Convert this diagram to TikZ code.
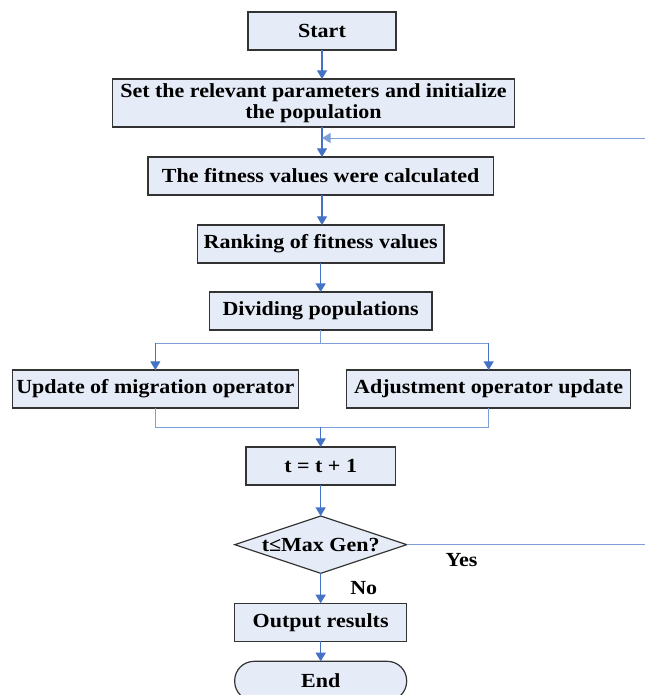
\documentclass[tikz,border=0pt]{standalone}
\usepackage{fontspec}
\setmainfont[FakeStretch=1.1]{Liberation Serif}
\usetikzlibrary{shapes.geometric,arrows.meta,positioning,calc}
\usepackage{xcolor}
\definecolor{cajapaso}{RGB}{230,236,247}
\definecolor{lineaflujo}{RGB}{68,114,196}
\definecolor{linearama}{RGB}{125,158,214}
\newcommand{\flowbox}[3]{%
  \node[rectangle, draw=black!80, line width=0.9pt, fill=cajapaso,
        minimum width=#2, minimum height=28.5pt, inner sep=2pt, outer sep=0pt,
        align=center, font=\fontsize{15}{16}\selectfont\bfseries, #3] (#1) }

\begin{document}
\begin{tikzpicture}[node distance=22.5pt,
  flujo/.style={draw=lineaflujo, line width=1pt, -{Triangle[length=6.5pt,width=7.5pt]}},
  rama/.style={draw=linearama, line width=0.7pt},
  etiqueta/.style={inner sep=0pt, font=\fontsize{15}{16}\selectfont\bfseries}]

\useasboundingbox (-241.5pt,23.25pt) rectangle (241.5pt,-498pt);

\flowbox{StartFC}{111pt}{at={(0,0)}}{Start};
\flowbox{SetupFC}{302pt}{below=21.75pt of StartFC, xshift=-6.4pt, minimum height=36pt}
  {Set the relevant parameters and initialize\\the population};
\flowbox{FitnessFC}{259pt}{below=of SetupFC, xshift=5.4pt}{The fitness values were calculated};
\flowbox{RankFC}{185pt}{below=of FitnessFC}{Ranking of fitness values};
\flowbox{DivideFC}{167pt}{below=21.75pt of RankFC}{Dividing populations};
\flowbox{MigrateFC}{214.5pt}{below=30pt of DivideFC, xshift=-124pt}{Update of migration operator};
\flowbox{AdjustFC}{213pt}{below=30pt of DivideFC, xshift=126pt}{Adjustment operator update};
\flowbox{CountFC}{112pt}{below=87.75pt of DivideFC}{t = t + 1};
\node[diamond, draw=black!80, line width=0.9pt, fill=cajapaso, aspect=3,
      minimum width=129pt, minimum height=43pt, inner sep=0pt, outer sep=0pt,
      font=\fontsize{15}{16}\selectfont\bfseries, below=23.25pt of CountFC] (CheckFC) {t≤Max Gen?};
\flowbox{OutputFC}{129pt}{below=of CheckFC}{Output results};
\flowbox{EndFC}{129pt}{below=15pt of OutputFC, rounded corners=14.5pt, minimum height=29.5pt}{End};

\node[etiqueta, below right=6pt and 29pt of CheckFC.east] (YesFC) {Yes};
\node[etiqueta, below right=6pt and 22pt of CheckFC.south] (NoFC) {No};

\coordinate[below=8.25pt of StartFC.south |- SetupFC.south] (LoopFC);
\coordinate (OutFC) at ($(CheckFC.east)+(200pt,0)$);
\coordinate[below=9.75pt of DivideFC.south] (SplitFC);
\coordinate[below=14.25pt of MigrateFC.south] (JoinFC);

\draw[flujo] (StartFC) -- (StartFC |- SetupFC.north);
\draw[flujo] (StartFC |- SetupFC.south) -- (StartFC |- FitnessFC.north);
\draw[flujo] (StartFC |- FitnessFC.south) -- (StartFC |- RankFC.north);
\draw[flujo] (RankFC) -- (DivideFC);
\draw[rama] (DivideFC.south) -- (SplitFC);
\draw[rama] (SplitFC) -| (MigrateFC.north);
\draw[rama] (SplitFC) -| (AdjustFC.north);
\draw[flujo, line width=0.7pt] (SplitFC -| MigrateFC.north) -- (MigrateFC.north);
\draw[flujo, line width=0.7pt] (SplitFC -| AdjustFC.north) -- (AdjustFC.north);
\draw[rama] (MigrateFC.south) -- (JoinFC) -| (AdjustFC.south);
\draw[flujo] (JoinFC -| CountFC.north) -- (CountFC.north);
\draw[flujo] (CountFC) -- (CheckFC);
\draw[flujo] (CheckFC) -- (OutputFC);
\draw[flujo] (OutputFC) -- (EndFC);
\draw[flujo, line width=0.7pt, draw=linearama] (CheckFC.east) -- (OutFC) |- (LoopFC);

\end{tikzpicture}
\end{document}
